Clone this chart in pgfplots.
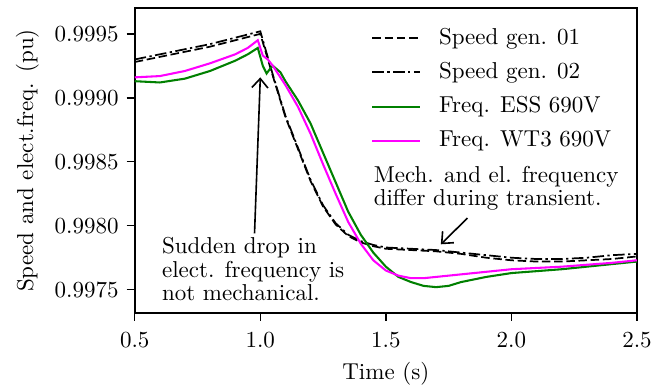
\documentclass[border=0pt]{standalone}
\usepackage{pgfplots}
\pgfplotsset{compat=1.18}
\usetikzlibrary{arrows.meta}
\definecolor{mgreen}{RGB}{0,128,0}
\definecolor{mmag}{RGB}{255,0,255}
\begin{document}
\begin{tikzpicture}
\begin{axis}[
  name=ax,
  scale only axis,
  width=218.4pt, height=132.4pt,
  xmin=0.5, xmax=2.5,
  ymin=0.99732, ymax=0.99970,
  xtick={0.5,1.0,1.5,2.0,2.5},
  ytick={0.9975,0.9980,0.9985,0.9990,0.9995},
  xticklabel style={/pgf/number format/fixed,/pgf/number format/fixed zerofill,/pgf/number format/precision=1},
  yticklabel style={/pgf/number format/fixed,/pgf/number format/fixed zerofill,/pgf/number format/precision=4},
  xticklabel shift=1.7pt,
  scaled y ticks=false,
  tick align=outside,
  xtick pos=bottom, ytick pos=left,
  major tick length=3.5pt,
  tick style={black, line width=0.6pt},
  axis line style={line width=0.8pt},
  xlabel={Time (s)},
  xlabel style={yshift=0.3pt},
  ylabel={Speed and elect.freq. (pu)},
  legend style={draw=none, fill=none, at={(0.968,0.952)}, anchor=north east,
    inner sep=0pt, row sep=2.4pt, font=\normalsize,
    nodes={inner xsep=4pt},
    /tikz/every odd column/.append style={column sep=4pt}},
  legend cell align=left,
  legend image code/.code={\draw[#1] (0pt,0pt) -- (20.5pt,0pt);},
]
\addplot[black, line width=0.75pt, dash pattern=on 3.7pt off 1.6pt] coordinates {
(0.5,0.99928)(0.6,0.99932)(0.7,0.99936)(0.8,0.99940)(0.9,0.99945)(1.0,0.99950)
(1.05,0.99917)(1.1,0.99885)(1.15,0.99860)(1.2,0.99835)(1.25,0.99815)(1.3,0.99801)
(1.35,0.99792)(1.4,0.99787)(1.45,0.99784)(1.5,0.99782)(1.6,0.99781)(1.7,0.99780)
(1.8,0.99778)(1.9,0.99775)(2.0,0.99773)(2.1,0.99772)(2.2,0.99772)(2.3,0.99773)
(2.4,0.99774)(2.5,0.99776)};
\addlegendentry{Speed gen. 01}
\addplot[black, line width=0.75pt, dash pattern=on 5pt off 1.5pt on 1pt off 1.5pt] coordinates {
(0.5,0.99930)(0.6,0.99934)(0.7,0.99938)(0.8,0.99942)(0.9,0.99947)(1.0,0.99952)
(1.05,0.99918)(1.1,0.99886)(1.15,0.99861)(1.2,0.99836)(1.25,0.99816)(1.3,0.99802)
(1.35,0.99793)(1.4,0.99788)(1.45,0.99785)(1.5,0.99783)(1.6,0.99782)(1.7,0.99781)
(1.8,0.99779)(1.9,0.99777)(2.0,0.99775)(2.1,0.99774)(2.2,0.99774)(2.3,0.99775)
(2.4,0.99777)(2.5,0.99778)};
\addlegendentry{Speed gen. 02}
\addplot[mgreen, line width=0.9pt] coordinates {
(0.5,0.99913)(0.6,0.99912)(0.7,0.99915)(0.8,0.99921)(0.9,0.99929)(0.95,0.99934)
(0.99,0.99939)(1.01,0.99925)(1.025,0.99919)(1.04,0.99923)(1.05,0.99925)(1.08,0.99920)
(1.1,0.99913)(1.15,0.99898)(1.2,0.99880)(1.25,0.99857)(1.3,0.99834)(1.35,0.99811)
(1.4,0.99793)(1.45,0.99779)(1.5,0.99768)(1.55,0.99760)(1.6,0.99756)(1.65,0.99753)
(1.7,0.99752)(1.75,0.99753)(1.8,0.99756)(1.9,0.99760)(2.0,0.99763)(2.2,0.99766)
(2.4,0.99770)(2.5,0.99772)};
\addlegendentry{Freq. ESS 690V}
\addplot[mmag, line width=0.9pt] coordinates {
(0.5,0.99916)(0.6,0.99917)(0.7,0.99921)(0.8,0.99927)(0.9,0.99934)(0.95,0.99939)
(0.99,0.99945)(1.01,0.99933)(1.03,0.99930)(1.05,0.99925)(1.1,0.99910)(1.15,0.99893)
(1.2,0.99872)(1.25,0.99848)(1.3,0.99825)(1.35,0.99803)(1.4,0.99786)(1.45,0.99773)
(1.5,0.99765)(1.55,0.99761)(1.6,0.99759)(1.65,0.99759)(1.7,0.99760)(1.8,0.99762)
(1.9,0.99764)(2.0,0.99766)(2.2,0.99768)(2.4,0.99771)(2.5,0.99773)};
\addlegendentry{Freq. WT3 690V}
\draw[-{Straight Barb[length=4pt,width=7pt]}, line width=0.7pt] (axis cs:0.977,0.99794) -- (axis cs:1.0,0.99916);
\draw[-{Straight Barb[length=4pt,width=7pt]}, line width=0.7pt] (axis cs:1.825,0.99806) -- (axis cs:1.719,0.997855);
\node[anchor=north west, align=left, inner sep=0pt, font=\fontsize{10}{10.2}\selectfont] at (axis cs:0.607,0.99791)
  {Sudden drop in\\elect. frequency is\\not mechanical.};
\node[anchor=north west, align=left, inner sep=0pt, font=\fontsize{10}{10.2}\selectfont] at (axis cs:1.450,0.998469)
  {Mech. and el. frequency\\differ during transient.};
\end{axis}
\pgfresetboundingbox
\path ([shift={(-58.6pt,-32.1pt)}]ax.south west) rectangle ([shift={(14.8pt,3.6pt)}]ax.north east);
\end{tikzpicture}
\end{document}
